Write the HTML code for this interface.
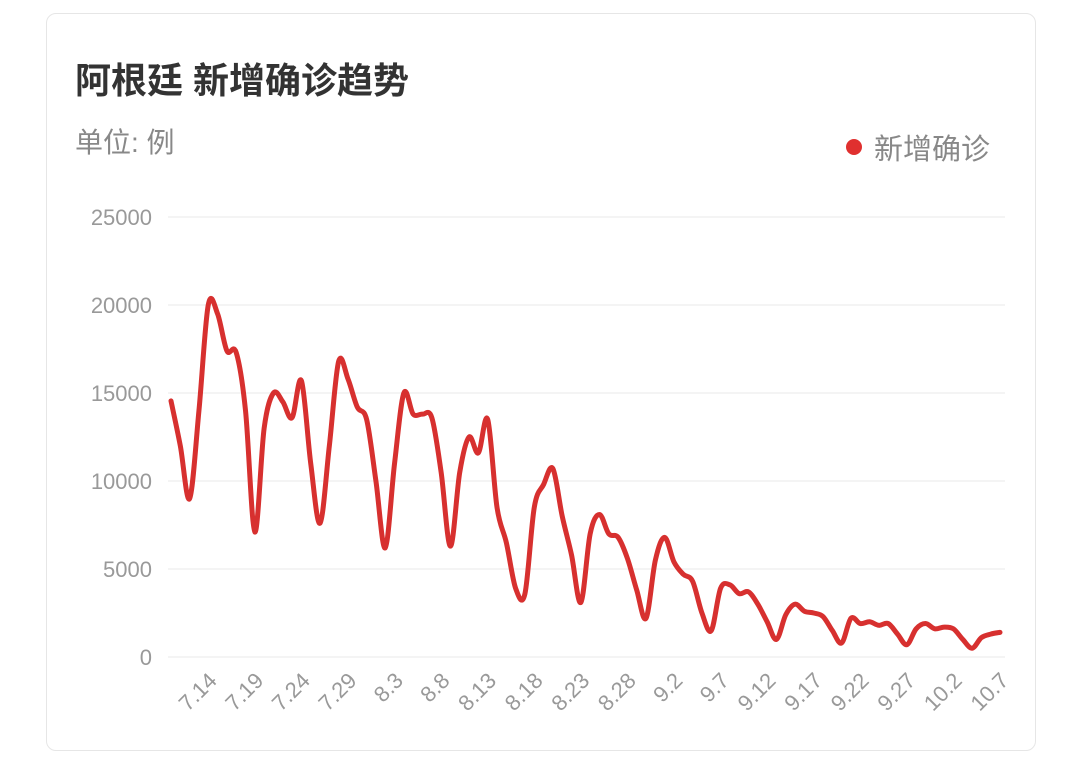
<!DOCTYPE html>
<html><head><meta charset="utf-8"><style>
body{margin:0;background:#fff;width:1067px;height:770px;overflow:hidden;font-family:"Liberation Sans","Noto Sans CJK SC",sans-serif}
.card{position:absolute;left:46px;top:13px;width:990px;height:738px;border:1px solid #e6e6e6;border-radius:10px;box-sizing:border-box}
.title{position:absolute;left:75px;top:52px;font-size:36px;font-weight:bold;color:#333}
.unit{position:absolute;left:75px;top:121px;font-size:28px;color:#888}
.legend{position:absolute;left:846px;top:126px;font-size:29px;color:#888}
.dot{display:inline-block;width:16px;height:16px;border-radius:50%;background:#e0302f;margin-right:12px;vertical-align:4px}
svg{position:absolute;left:0;top:0}
</style></head><body>
<div class="card"></div>
<div class="title">阿根廷 新增确诊趋势</div>
<div class="unit">单位: 例</div>
<div class="legend"><span class="dot"></span>新增确诊</div>
<svg id="chart" width="1067" height="770"></svg>
<script>
const startMonth = 7, startDay = 10;
const yTicks = [0, 5000, 10000, 15000, 20000, 25000];
const xTickLabels = ["7.14","7.19","7.24","7.29","8.3","8.8","8.13","8.18","8.23","8.28","9.2","9.7","9.12","9.17","9.22","9.27","10.2","10.7"];
const cases = [14550,12000,9000,14000,20000,19500,17400,17300,14000,7100,
13000,15000,14500,13600,15700,11000,7600,12000,16800,15800,
14200,13500,10000,6200,11000,15000,13800,13800,13600,10500,
6300,10500,12500,11600,13500,8500,6500,3900,3600,8500,
9800,10700,8000,5800,3100,7000,8100,7000,6800,5600,
3800,2200,5500,6800,5400,4700,4300,2500,1500,3900,
4100,3600,3700,3000,2000,1000,2400,3000,2600,2500,
2300,1500,800,2200,1900,2000,1800,1900,1300,700,
1600,1900,1600,1700,1600,1000,500,1100,1300,1400];
const NS="http://www.w3.org/2000/svg";
const svg=document.getElementById('chart');
const x0=171,x1=1000,y0=657,yTop=217,yMax=25000;
const xs=i=>x0+(x1-x0)*i/(cases.length-1);
const ys=v=>y0-(y0-yTop)*v/yMax;
yTicks.forEach(t=>{
  const l=document.createElementNS(NS,'line');
  
  
  l.setAttribute('x1',168);l.setAttribute('x2',1005);l.setAttribute('y1',ys(t));l.setAttribute('y2',ys(t));
  l.setAttribute('stroke','#f4f4f4');l.setAttribute('stroke-width',2);svg.appendChild(l);
  const tx=document.createElementNS(NS,'text');
  
  
  tx.setAttribute('x',152);tx.setAttribute('y',ys(t)+8);tx.setAttribute('text-anchor','end');
  tx.setAttribute('font-size','22');tx.setAttribute('fill','#999');tx.textContent=t;svg.appendChild(tx);
});
function dayIndex(lbl){const [m,d]=lbl.split('.').map(Number);const md=[0,0,0,0,0,0,0,31,31,30,31];let n=0;for(let k=startMonth;k<m;k++)n+=md[k];return n+d-startDay;}
xTickLabels.forEach(lbl=>{
  const x=xs(dayIndex(lbl)),y=672;
  const tx=document.createElementNS(NS,'text');
  
  
  tx.setAttribute('x',x);tx.setAttribute('y',y+14);tx.setAttribute('text-anchor','end');
  tx.setAttribute('font-size','22');tx.setAttribute('fill','#999');
  tx.setAttribute('transform',`rotate(-45 ${x} ${y})`);tx.textContent=lbl;svg.appendChild(tx);
});
const pts=cases.map((v,i)=>[xs(i),ys(v)]);
let d=`M${pts[0][0]},${pts[0][1]}`;
for(let i=0;i<pts.length-1;i++){
  const p0=pts[i-1]||pts[i],p1=pts[i],p2=pts[i+1],p3=pts[i+2]||p2;
  const c1=[p1[0]+(p2[0]-p0[0])/6,p1[1]+(p2[1]-p0[1])/6];
  const c2=[p2[0]-(p3[0]-p1[0])/6,p2[1]-(p3[1]-p1[1])/6];
  d+=` C${c1[0]},${c1[1]} ${c2[0]},${c2[1]} ${p2[0]},${p2[1]}`;
}
const path=document.createElementNS(NS,'path');


path.setAttribute('d',d);path.setAttribute('fill','none');path.setAttribute('stroke','#d7302f');
path.setAttribute('stroke-width',5);path.setAttribute('stroke-linejoin','round');path.setAttribute('stroke-linecap','round');
svg.appendChild(path);
</script>
</body></html>
